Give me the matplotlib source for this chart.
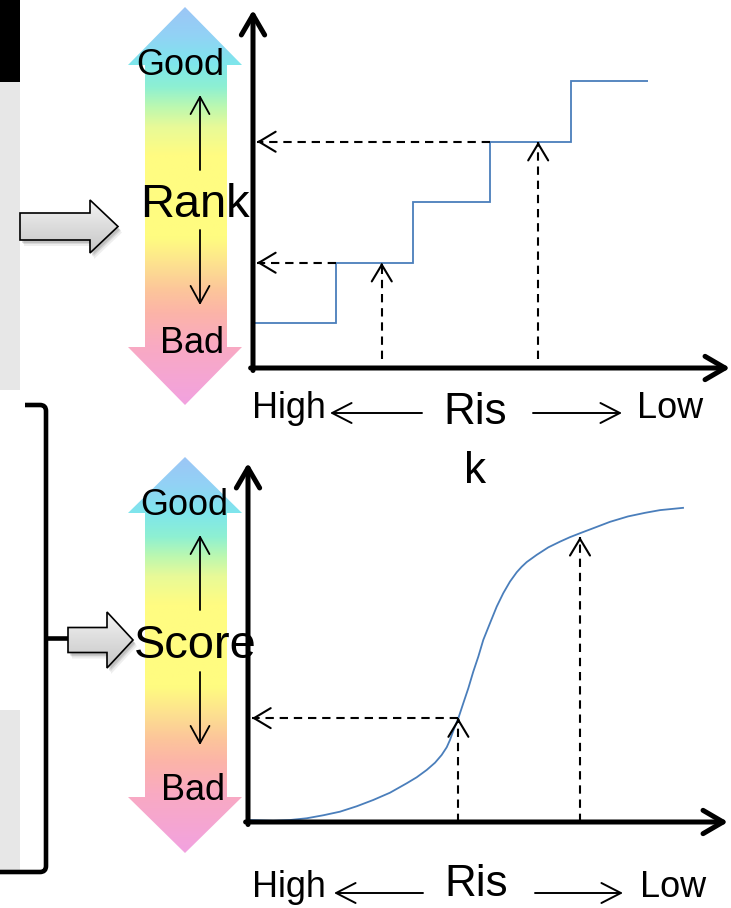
import numpy as np
import matplotlib
matplotlib.use("Agg")
import matplotlib.pyplot as plt
from matplotlib.patches import Polygon, Rectangle, PathPatch
from matplotlib.path import Path
from matplotlib.colors import LinearSegmentedColormap

plt.rcParams['font.family'] = ['Liberation Sans', 'DejaVu Sans']

# ---------------- data ----------------
rank_edges = [0.0, 1.05, 2.03, 3.0, 4.03, 5.0]
rank_levels = [0.74, 1.74, 2.74, 3.74, 4.74]
rank_query_x = [1.63, 3.61]
rank_query_y = [1.74, 3.74]
rank_corner_x = [1.05, 3.0]

score_x = [0.025, 0.316, 0.525, 0.734, 0.941, 1.15, 1.359, 1.566, 1.775, 1.984,
           2.109, 2.234, 2.338, 2.421, 2.484, 2.525, 2.566, 2.629, 2.691, 2.754,
           2.816, 2.879, 2.941, 3.025, 3.109, 3.191, 3.275, 3.359, 3.420, 3.484,
           3.609, 3.754, 3.900, 4.025, 4.150, 4.338, 4.525, 4.750, 4.963, 5.150,
           5.438]
score_y = [0.033, 0.022, 0.033, 0.062, 0.112, 0.172, 0.262, 0.367, 0.488, 0.645,
           0.745, 0.867, 0.988, 1.117, 1.245, 1.367, 1.520, 1.728, 1.978, 2.228,
           2.505, 2.755, 3.033, 3.312, 3.588, 3.812, 4.005, 4.160, 4.250, 4.330,
           4.450, 4.575, 4.670, 4.745, 4.810, 4.905, 5.000, 5.090, 5.150, 5.195,
           5.233]
score_query_x = [2.63, 4.15]
score_query_y = [1.73, 4.75]

top_words = ["Good", "Rank", "Bad"]
bottom_words = ["Good", "Score", "Bad"]
axis_words = ["High", "Ris\nk", "Low"]
axis_words_bottom = ["High", "Ris", "Low"]

# ---------------- figure ----------------
W, H = 731, 908
fig = plt.figure(figsize=(W / 100, H / 100), dpi=100)
ax0 = fig.add_axes([0, 0, 1, 1])
ax0.set_xlim(0, W)
ax0.set_ylim(H, 0)
ax0.axis('off')

BLUE = '#4a7ebb'

# left side panels
ax0.add_patch(Rectangle((0, 0), 20, 82, facecolor='black', edgecolor='none'))
ax0.add_patch(Rectangle((0, 82), 20, 308, facecolor='#e7e7e7', edgecolor='none'))
ax0.add_patch(Rectangle((0, 710), 20, 163, facecolor='#e7e7e7', edgecolor='none'))

# bracket
bverts = [(25, 405), (40, 405), (46, 405), (46, 411), (46, 866), (46, 872), (40, 872), (0, 872)]
bcodes = [Path.MOVETO, Path.LINETO, Path.CURVE3, Path.CURVE3, Path.LINETO,
          Path.CURVE3, Path.CURVE3, Path.LINETO]
ax0.add_patch(PathPatch(Path(bverts, bcodes), facecolor='none', edgecolor='black',
                        lw=3.3, capstyle='butt', joinstyle='round'))
ax0.plot([46, 70], [638, 638], color='black', lw=3.3, solid_capstyle='butt')

# rainbow gradient arrows
rb_cmap = LinearSegmentedColormap.from_list('rb', [
    (0.00, '#9cc6f6'), (0.07, '#92d2f5'), (0.14, '#7ee6ec'), (0.20, '#8ef0d2'),
    (0.25, '#bcf8b0'), (0.30, '#e8fa98'), (0.37, '#fffc82'), (0.58, '#fffc80'),
    (0.65, '#fde090'), (0.71, '#fcc69a'), (0.77, '#fcb4a8'), (0.85, '#f9aac2'),
    (1.00, '#f2a2e0')])
grad = np.linspace(0, 1, 256).reshape(-1, 1)


def rainbow(ytop, yhb, ybb, ybot):
    pts = [(185, ytop), (242, yhb), (227, yhb), (227, ybb), (242, ybb), (185, ybot),
           (128, ybb), (145, ybb), (145, yhb), (128, yhb)]
    poly = Polygon(pts, closed=True, facecolor='none', edgecolor='none')
    ax0.add_patch(poly)
    im = ax0.imshow(grad, cmap=rb_cmap, extent=(128, 242, ybot, ytop), origin='upper',
                    aspect='auto', interpolation='bilinear', zorder=1)
    im.set_clip_path(poly)


rainbow(7, 65, 347, 405)
rainbow(457, 513, 797, 853)

# block arrows (grey, with shadow)
gray_cmap = LinearSegmentedColormap.from_list('gr', ['#f4f4f4', '#dcdcdc', '#c6c6c6'])


def block(x0, xh, xt, yc, bh, hh):
    pts = [(x0, yc - bh), (xh, yc - bh), (xh, yc - hh), (xt, yc), (xh, yc + hh),
           (xh, yc + bh), (x0, yc + bh)]
    for (dx, dy, a) in [(4, 6, 0.10), (3, 4, 0.15), (2, 3, 0.2)]:
        sh = [(x + dx, y + dy) for x, y in pts]
        ax0.add_patch(Polygon(sh, closed=True, facecolor='#606060', edgecolor='none',
                              alpha=a, zorder=2))
    poly = Polygon(pts, closed=True, facecolor='none', edgecolor='none', zorder=3)
    ax0.add_patch(poly)
    im = ax0.imshow(grad, cmap=gray_cmap, extent=(x0, xt, yc + hh, yc - hh), origin='upper',
                    aspect='auto', interpolation='bilinear', zorder=3)
    im.set_clip_path(poly)
    ax0.add_patch(Polygon(pts, closed=True, facecolor='none', edgecolor='black',
                          lw=1.2, zorder=4))


block(20, 90, 118, 226.5, 13.5, 26.5)
block(68, 107, 133, 640, 12.5, 28)

ax0.set_xlim(0, W)
ax0.set_ylim(H, 0)

# thin arrows inside the rainbow arrows
thin = dict(arrowstyle='->,head_length=0.62,head_width=0.34', lw=1.3, color='black',
            shrinkA=0, shrinkB=0, mutation_scale=20)
for (y0, y1) in [(170, 95), (230, 305), (610, 535), (672, 745)]:
    ax0.annotate('', xy=(200, y1), xytext=(200, y0), arrowprops=thin, zorder=5)

# words on the rainbow arrows
FS_S = 25.9
FS_L = 33.8
ax0.text(180, 75, top_words[0], fontsize=FS_S, ha='center', va='baseline', zorder=6)
ax0.text(195, 217, top_words[1], fontsize=FS_L, ha='center', va='baseline', zorder=6)
ax0.text(192, 353, top_words[2], fontsize=FS_S, ha='center', va='baseline', zorder=6)
ax0.text(184, 515, bottom_words[0], fontsize=FS_S, ha='center', va='baseline', zorder=6)
ax0.text(195, 658, bottom_words[1], fontsize=FS_L, ha='center', va='baseline', zorder=6)
ax0.text(193, 800, bottom_words[2], fontsize=FS_S, ha='center', va='baseline', zorder=6)

# x-axis captions
lab = dict(arrowstyle='->,head_length=0.7,head_width=0.36', lw=1.4, color='black',
           shrinkA=0, shrinkB=0, mutation_scale=20)
ax0.text(252, 418, axis_words[0], fontsize=FS_S, ha='left', va='baseline')
ax0.text(637, 418, axis_words[2], fontsize=FS_S, ha='left', va='baseline')
ax0.text(475, 483, axis_words[1], fontsize=31.7, ha='center', va='baseline',
         multialignment='center', linespacing=1.55)
ax0.annotate('', xy=(330, 413), xytext=(422, 413), arrowprops=lab)
ax0.annotate('', xy=(622, 413), xytext=(533, 413), arrowprops=lab)

ax0.text(252, 897, axis_words_bottom[0], fontsize=FS_S, ha='left', va='baseline')
ax0.text(640, 897, axis_words_bottom[2], fontsize=FS_S, ha='left', va='baseline')
ax0.text(476, 896, axis_words_bottom[1], fontsize=31.7, ha='center', va='baseline')
ax0.annotate('', xy=(334, 893), xytext=(423, 893), arrowprops=lab)
ax0.annotate('', xy=(623, 893), xytext=(535, 893), arrowprops=lab)


# ---------------- data axes ----------------
def px_axes(x0, y0, x1, y1):
    return fig.add_axes([x0 / W, 1 - y0 / H, (x1 - x0) / W, (y0 - y1) / H])


def draw_axes_arrows(ax):
    ax.set_facecolor('none')
    ax.axis('off')
    ap = dict(arrowstyle='->,head_length=0.72,head_width=0.42', lw=3.6, color='black',
              shrinkA=0, shrinkB=0, mutation_scale=20)
    ax.annotate('', xy=(0, 1), xytext=(0, -0.007), xycoords='axes fraction',
                arrowprops=ap, annotation_clip=False)
    ax.annotate('', xy=(1, 0), xytext=(-0.005, 0), xycoords='axes fraction',
                arrowprops=ap, annotation_clip=False)


dash = (0, (4, 2.8))
head = dict(arrowstyle='->,head_length=0.6,head_width=0.36', lw=1.5, color='black',
            shrinkA=0, shrinkB=0, mutation_scale=20)

# top: rank step chart
axT = px_axes(253, 368, 730, 10)
axT.set_xlim(0, 477 / 79)
axT.set_ylim(0, 358 / 60.5)
draw_axes_arrows(axT)
axT.stairs(rank_levels, rank_edges, baseline=None, color=BLUE, lw=1.3)
for qx, qy in zip(rank_query_x, rank_query_y):
    axT.plot([qx, qx], [0.15, qy], color='black', lw=1.5, ls=dash)
    axT.annotate('', xy=(qx, qy), xytext=(qx, qy - 0.06), arrowprops=head)
for cx, qy in zip(rank_corner_x, rank_query_y):
    axT.plot([cx, 0.05], [qy, qy], color='black', lw=1.5, ls=dash)
    axT.annotate('', xy=(0.05, qy), xytext=(0.1, qy), arrowprops=head)

# bottom: score curve
axB = px_axes(248, 822, 728, 463)
axB.set_xlim(0, 6.0)
axB.set_ylim(0, 5.98)
draw_axes_arrows(axB)
axB.plot(score_x, score_y, color=BLUE, lw=1.3, solid_joinstyle='round')
for qx, qy in zip(score_query_x, score_query_y):
    axB.plot([qx, qx], [0.0, qy], color='black', lw=1.5, ls=dash)
    axB.annotate('', xy=(qx, qy), xytext=(qx, qy - 0.06), arrowprops=head)
axB.plot([score_query_x[0], 0.05], [score_query_y[0]] * 2, color='black', lw=1.5, ls=dash)
axB.annotate('', xy=(0.05, score_query_y[0]), xytext=(0.1, score_query_y[0]), arrowprops=head)

fig.savefig('out.png', dpi=100)
